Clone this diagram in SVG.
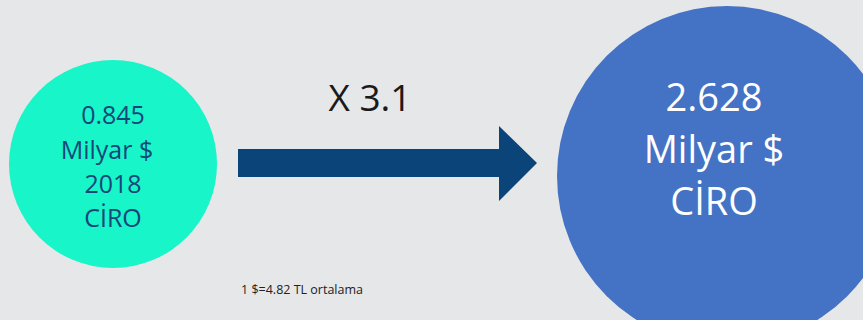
<svg xmlns="http://www.w3.org/2000/svg" width="863" height="320" viewBox="0 0 863 320">
<style>
.t{font-family:"Open Sans","Noto Sans","Liberation Sans",sans-serif;text-anchor:middle}
.l{fill:#17467A;font-size:25px}
.r{fill:#FFFFFF;font-size:38px}
</style>
<rect width="863" height="320" fill="#E6E7E9"/>
<g id="node-2018">
<circle cx="113" cy="164" r="104" fill="#17F5C9"/>
<text class="t l" x="113" y="124">0.845</text>
<text class="t l" x="107" y="159">Milyar $</text>
<text class="t l" x="113" y="193">2018</text>
<text class="t l" x="113" y="227">CİRO</text>
</g>
<g id="node-target">
<circle cx="727" cy="176" r="170" fill="#4472C4"/>
<text class="t r" x="714" y="111">2.628</text>
<text class="t r" x="714" y="163">Milyar $</text>
<text class="t r" x="714" y="215">CİRO</text>
</g>
<g id="connectors">
<polygon points="238,149 499,149 499,126 537,163 499,201 499,177 238,177" fill="#0B4479"/>
<text class="t" x="370" y="111" font-size="37" fill="#1A1A1A">X 3.1</text>
</g>
<text class="t" x="302" y="294" font-size="12.5" fill="#222222">1 $=4.82 TL ortalama</text>
</svg>
